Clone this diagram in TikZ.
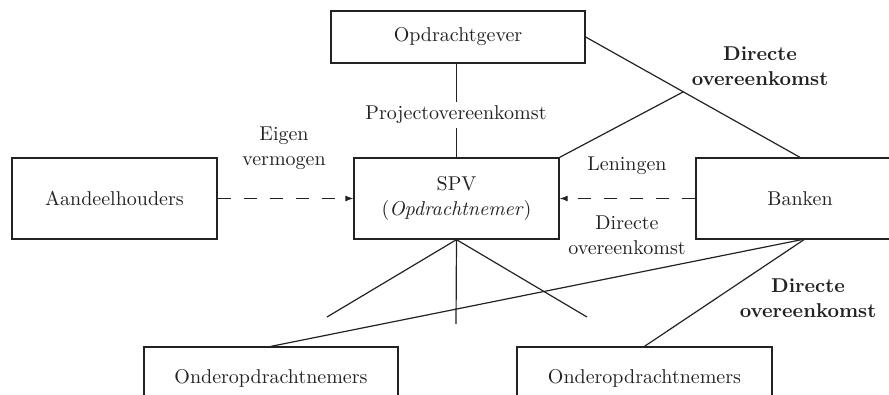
\documentclass[tikz,border=0pt]{standalone}
\usetikzlibrary{arrows.meta}
\definecolor{ink}{HTML}{222222}
\begin{document}
\begin{tikzpicture}[x=0.5pt,y=-0.5pt,
  font={\fontsize{10}{12.5}\selectfont},
  every node/.style={text=ink},
  box/.style={draw=ink,line width=0.65pt,inner sep=0pt,align=center},
  lbl/.style={align=center,inner sep=1pt},
  conn/.style={draw=ink,line width=0.6pt},
  dashconn/.style={conn,dash pattern=on 6.5pt off 6.5pt,-{Latex[length=4pt,width=3pt]}}
]
\useasboundingbox (0,0) rectangle (889,395);
\node[box,minimum width=127pt,minimum height=26pt] (og) at (458,37) {Opdrachtgever};
\node[box,minimum width=102.5pt,minimum height=40.5pt] (aan) at (114.5,198.5) {Aandeelhouders};
\node[box,minimum width=102.5pt,minimum height=40.5pt] (spv) at (456.5,198.5) {SPV\\(\textit{Opdrachtnemer})};
\node[box,minimum width=104pt,minimum height=40.5pt] (bank) at (800,198.5) {Banken};
\node[box,minimum width=127pt,minimum height=31pt] (ond1) at (271,378) {Onderopdrachtnemers};
\node[box,minimum width=127.5pt,minimum height=31pt] (ond2) at (644.5,378) {Onderopdrachtnemers};
% project agreement
\draw[conn] (spv.north) -- (spv.north |- og.south);
\node[lbl,fill=white,inner sep=2pt] (proj) at (456,115) {Projectovereenkomst};
% direct agreement top
\coordinate (J) at (683,92);
\draw[conn] (og.east) -- (bank.north);
\draw[conn] (J) -- (spv.north east);
\node[lbl,font={\fontsize{10}{12.5}\selectfont\bfseries}] (dir1) at (760,66) {Directe\\overeenkomst};
% equity
\draw[dashconn] (aan.east) -- (spv.west);
\node[lbl] (eigen) at (284,148) {Eigen\\vermogen};
% loans
\draw[dashconn] (bank.west) -- (spv.east);
\node[lbl] (len) at (627,166) {Leningen};
\node[lbl] (dir2) at (627,235) {Directe\\overeenkomst};
% SPV fan
\coordinate (f1) at (327,317);
\coordinate (f2) at (456,324);
\coordinate (f3) at (587,317);
\draw[conn] (f1) -- (spv.south) -- (f3);
\draw[conn] (spv.south) -- (f2);
% bank to subcontractors
\coordinate (B) at (805,239);
\draw[conn] (B) -- (ond1.north);
\draw[conn] (B) -- (ond2.north);
\node[lbl,font={\fontsize{10}{12.5}\selectfont\bfseries}] (dir3) at (808,298) {Directe\\overeenkomst};
\end{tikzpicture}
\end{document}
